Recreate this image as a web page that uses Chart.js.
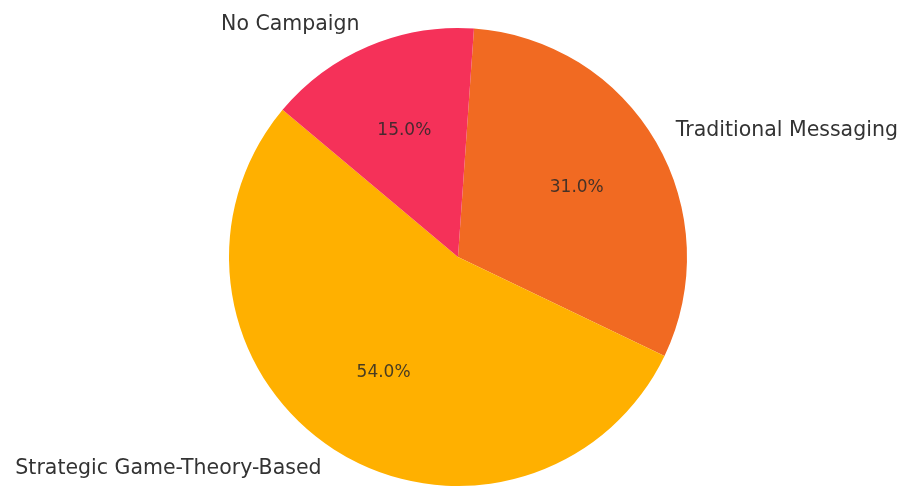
<!DOCTYPE html>
<html lang="en">
<head>
  <meta charset="UTF-8">
  <title>Campaign Share</title>
  <script src="https://cdn.jsdelivr.net/npm/chart.js"></script>
  <style>
    html, body { margin: 0; padding: 0; background: #fff; }
    #wrap { width: 902px; height: 486px; }
  </style>
</head>
<body>
  <div id="wrap"><canvas id="grafik" width="902" height="486"></canvas></div>

  <script>
    // data, in clockwise order starting from the top
    const labels = ["Traditional Messaging", "Strategic Game-Theory-Based", "No Campaign"];
    const values = [31, 54, 15];
    const colors = ["#F16A22", "#FFB000", "#F53159"];

    // matplotlib-like labels: name outside at 1.1r, percent inside at 0.6r
    const pieLabels = {
      id: 'pieLabels',
      afterDatasetsDraw(chart) {
        const ctx = chart.ctx;
        const meta = chart.getDatasetMeta(0);
        const total = values.reduce((a, b) => a + b, 0);
        ctx.save();
        ctx.textBaseline = 'middle';
        meta.data.forEach((arc, i) => {
          const p = arc.getProps(['x', 'y', 'startAngle', 'endAngle', 'outerRadius'], true);
          const mid = (p.startAngle + p.endAngle) / 2;
          const c = Math.cos(mid), s = Math.sin(mid);

          ctx.fillStyle = '#333333';
          ctx.font = '20.5px "DejaVu Sans"';
          ctx.textAlign = c > 0 ? 'left' : 'right';
          ctx.fillText(labels[i], p.x + c * p.outerRadius * 1.1, p.y + s * p.outerRadius * 1.1);

          ctx.font = '17px "DejaVu Sans"';
          ctx.textAlign = 'center';
          ctx.fillStyle = 'rgba(40,40,40,0.85)';
          const pct = (values[i] / total * 100).toFixed(1) + '%';
          ctx.fillText(pct, p.x + c * p.outerRadius * 0.6, p.y + s * p.outerRadius * 0.6);
        });
        ctx.restore();
      }
    };

    new Chart(document.getElementById('grafik'), {
      type: 'pie',
      data: {
        labels: labels,
        datasets: [{
          data: values,
          backgroundColor: colors,
          borderWidth: 0
        }]
      },
      options: {
        responsive: false,
        animation: false,
        rotation: 4,
        layout: { padding: { left: 14, right: 0, top: 28, bottom: 0 } },
        plugins: {
          legend: { display: false },
          tooltip: { enabled: false }
        }
      },
      plugins: [pieLabels]
    });
  </script>
</body>
</html>
